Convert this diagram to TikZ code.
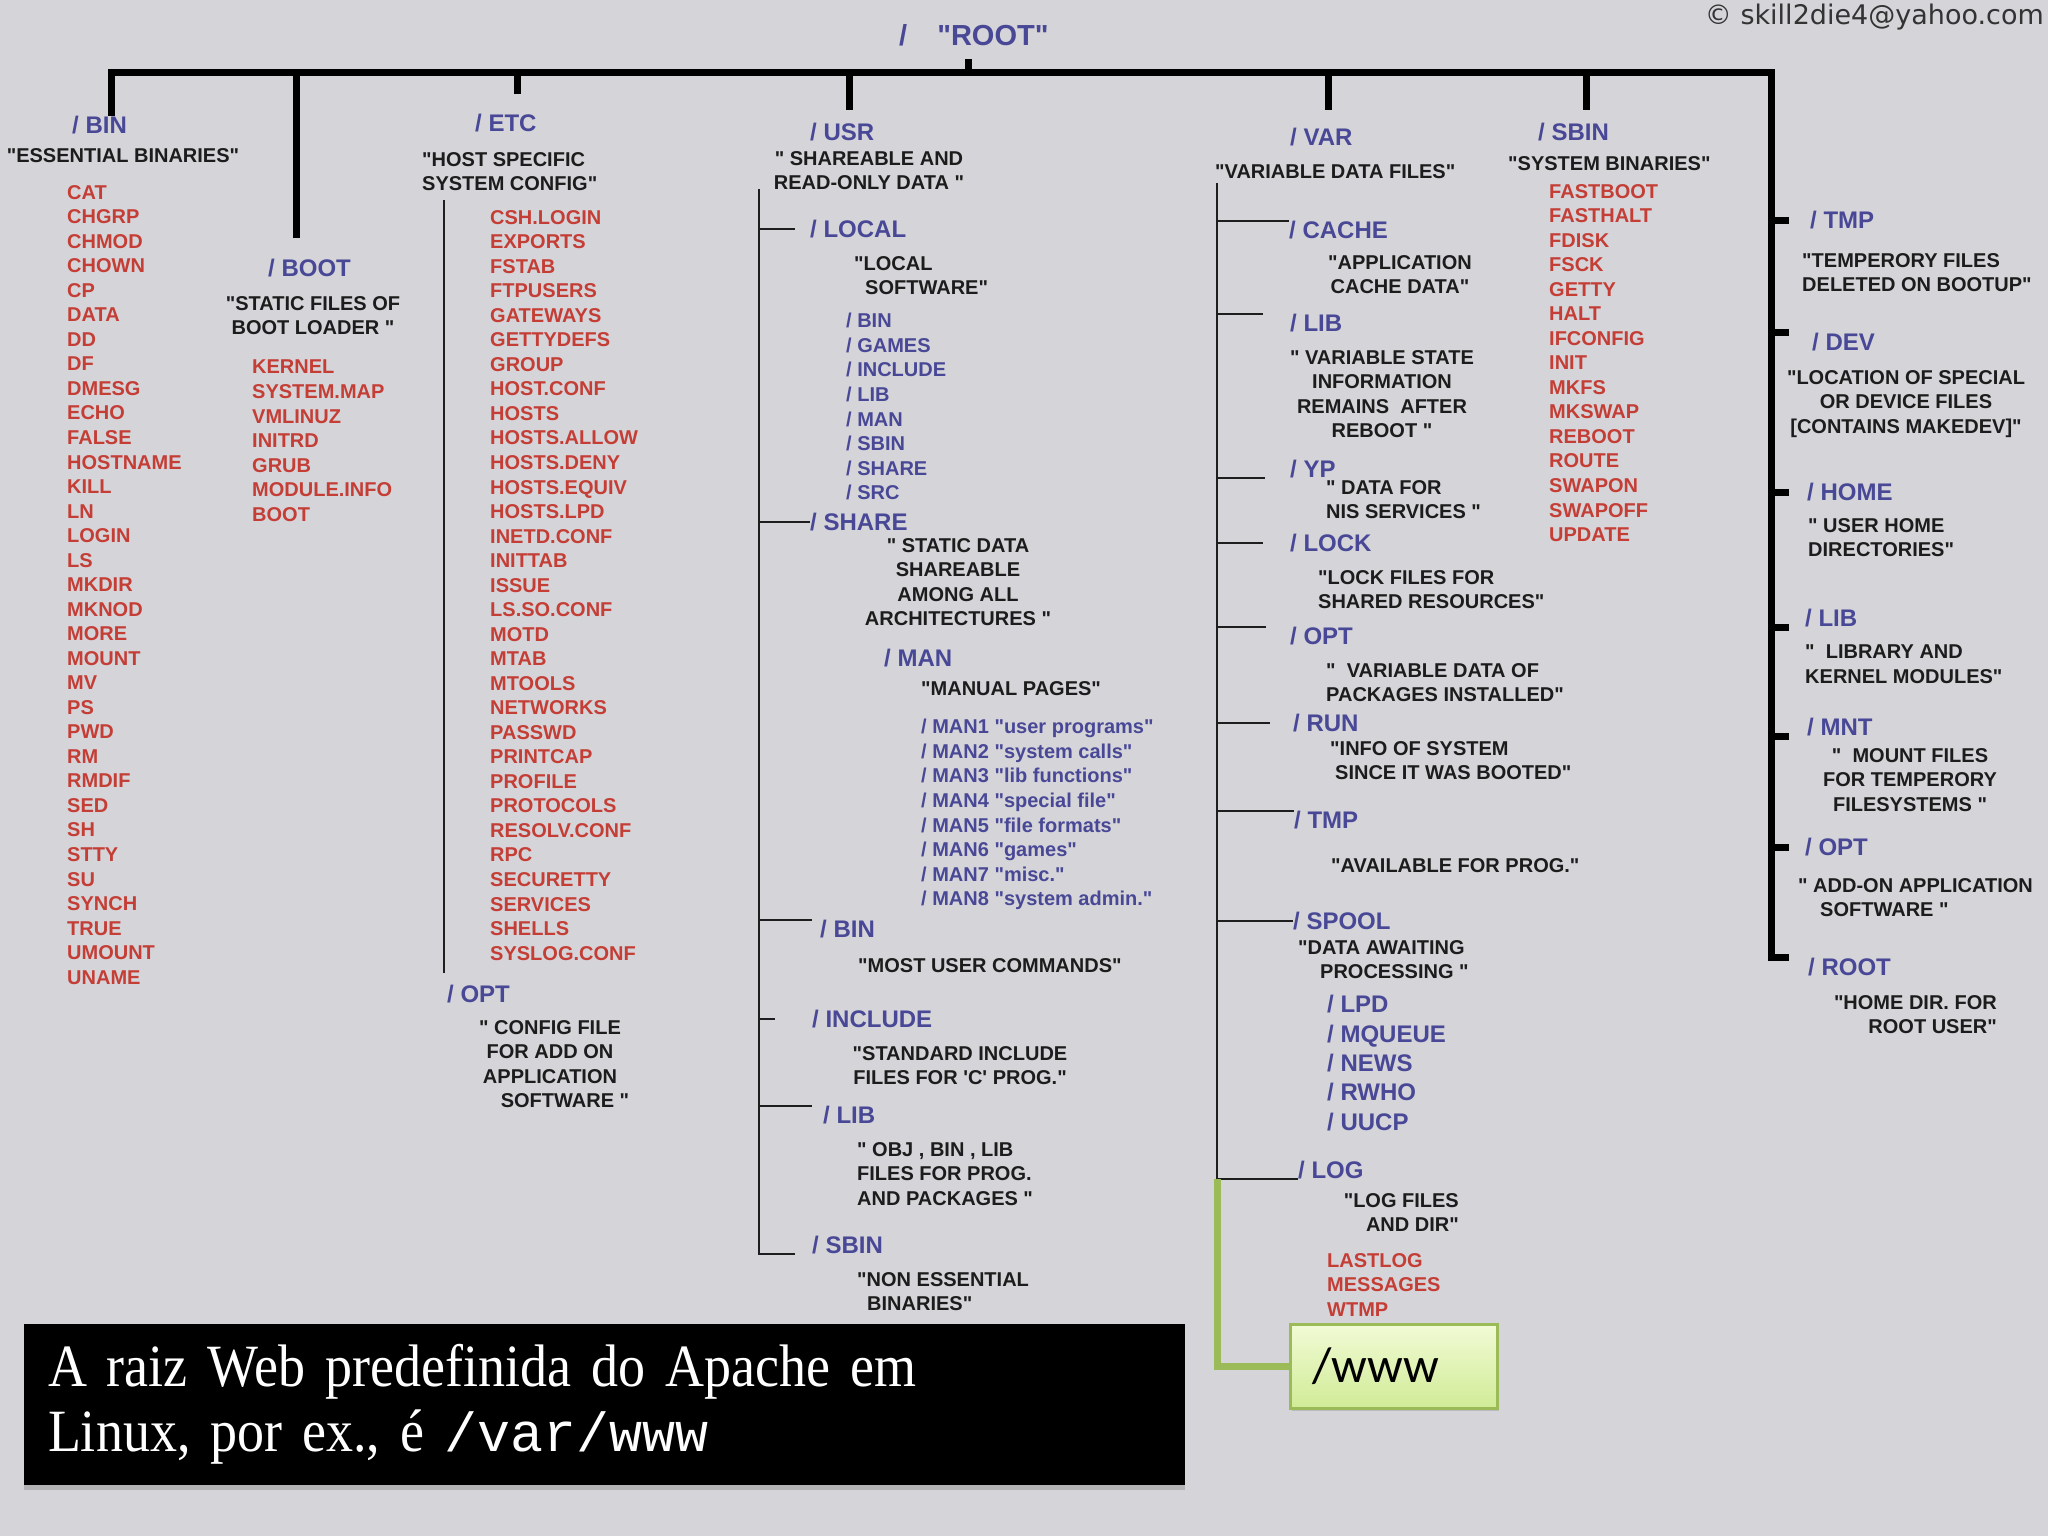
\documentclass[tikz,border=0pt]{standalone}
\usepackage{fontspec}
\usepackage{tikz}
\usetikzlibrary{shadows}
\newfontfamily\dirfont{Liberation Sans}
\newfontfamily\capfont{Liberation Serif}[FakeStretch=0.9]
\newfontfamily\capmono{Liberation Mono}
\newfontfamily\wwwfont{Carlito}
\newfontfamily\copyfont{DejaVu Sans}
\definecolor{bgcol}{RGB}{213,212,217}
\definecolor{dirblue}{RGB}{72,72,150}
\definecolor{filered}{RGB}{196,62,54}
\definecolor{notetxt}{RGB}{28,28,28}
\definecolor{linegray}{RGB}{30,30,30}
\definecolor{wwwgreen}{RGB}{155,187,89}
\definecolor{wwwtop}{RGB}{242,251,214}
\definecolor{wwwbot}{RGB}{208,235,150}

\begin{document}
\begin{tikzpicture}[x=1pt,y=-1pt]
    \tikzstyle{every node}=[inner sep=0pt]
    \tikzstyle{lbl}=[anchor=west,text=dirblue,font=\dirfont\bfseries\fontsize{24}{29.4}\selectfont]
    \tikzstyle{note}=[anchor=north,align=center,text=notetxt,font=\dirfont\bfseries\fontsize{20}{24.5}\selectfont]
    \tikzstyle{noteleft}=[note,anchor=north west,align=left]
    \tikzstyle{noteright}=[note,anchor=north east,align=right]
    \tikzstyle{files}=[anchor=north west,align=left,text=filered,font=\dirfont\bfseries\fontsize{20}{24.53}\selectfont]
    \tikzstyle{subdirs}=[files,text=dirblue,font=\dirfont\bfseries\fontsize{20}{24.6}\selectfont]
    \tikzstyle{bigsubdirs}=[files,text=dirblue,font=\dirfont\bfseries\fontsize{24}{29.4}\selectfont]
    \tikzstyle{trunk}=[line width=7pt,draw=black]
    \tikzstyle{branch}=[line width=2pt,draw=linegray]
    \tikzstyle{wwwline}=[line width=7pt,draw=wwwgreen]
    \tikzstyle{wwwbox}=[draw=wwwgreen,line width=3pt,top color=wwwtop,bottom color=wwwbot,
        minimum width=207pt,minimum height=84pt,text width=163pt,inner xsep=22pt,align=left,
        font=\wwwfont\fontsize{50}{60}\selectfont,drop shadow={shadow xshift=2pt,shadow yshift=-3pt,opacity=0.3}]
    \tikzstyle{capbox}=[fill=black,text=white,minimum width=1161pt,minimum height=161pt,
        text width=1113pt,inner xsep=24pt,align=left,font=\capfont\fontsize{60}{65}\selectfont,
        drop shadow={shadow xshift=0pt,shadow yshift=-5pt,opacity=0.4}]

    \fill[bgcol] (0,0) rectangle (2048,1536);
    \useasboundingbox (0,0) rectangle (2048,1536);

    % title and credit
    \node[anchor=west,text=dirblue,font=\dirfont\bfseries\fontsize{29}{34}\selectfont] (rootttl) at (899,35) {/\hspace{30pt}"ROOT"};
    \node[anchor=east,text=black!80,font=\copyfont\fontsize{27}{32}\selectfont] (credit) at (2044,17) {© skill2die4@yahoo.com};

    % top level directories
    \node[lbl] (binlbl) at (72,125) {/ BIN};
    \node[lbl] (bootlbl) at (268,268) {/ BOOT};
    \node[lbl] (etclbl) at (475,123) {/ ETC};
    \node[lbl] (usrlbl) at (810,132) {/ USR};
    \node[lbl] (varlbl) at (1290,137) {/ VAR};
    \node[lbl] (sbinlbl) at (1538,132) {/ SBIN};

    \node[lbl] (rttmp) at (1810,220) {/ TMP};
    \node[lbl] (rtdev) at (1812,342) {/ DEV};
    \node[lbl] (rthome) at (1807,492) {/ HOME};
    \node[lbl] (rtlib) at (1805,618) {/ LIB};
    \node[lbl] (rtmnt) at (1807,727) {/ MNT};
    \node[lbl] (rtopt) at (1805,847) {/ OPT};
    \node[lbl] (rtroot) at (1808,967) {/ ROOT};

    % the root bar
    \coordinate (barw) at (111,73);
    \coordinate (bare) at (1771,73);
    \coordinate (rootstem) at (968,59);
    \coordinate (bootstem) at (296,238);
    \coordinate (etcstem) at (517,94);
    \coordinate (usrstem) at (849,110);
    \coordinate (varstem) at (1328,110);
    \coordinate (sbinstem) at (1586,110);
    \draw[trunk] (barw |- binlbl.north) -- (barw) -- (bare) -- (bare |- rtroot.north) -- ++(18,0);
    \draw[trunk] (rootstem) -- (rootstem |- barw);
    \draw[trunk] (bootstem) -- (bootstem |- barw);
    \draw[trunk] (etcstem) -- (etcstem |- barw);
    \draw[trunk] (usrstem) -- (usrstem |- barw);
    \draw[trunk] (varstem) -- (varstem |- barw);
    \draw[trunk] (sbinstem) -- (sbinstem |- barw);
    \draw[trunk] (bare |- rttmp.west) -- ++(18,0);
    \draw[trunk] (bare |- rtdev.north) -- ++(18,0);
    \draw[trunk] (bare |- rthome.west) -- ++(18,0);
    \draw[trunk] (bare |- rtlib.south) -- ++(18,0);
    \draw[trunk] (bare |- rtmnt.south) -- ++(18,0);
    \draw[trunk] (bare |- rtopt.west) -- ++(18,0);

    % /bin
    \node[note] (bindesc) at (123,148) {"ESSENTIAL BINARIES"};
    \node[files] (binlist) at (67,185) {CAT\\CHGRP\\CHMOD\\CHOWN\\CP\\DATA\\DD\\DF\\DMESG\\ECHO\\FALSE\\HOSTNAME\\KILL\\LN\\LOGIN\\LS\\MKDIR\\MKNOD\\MORE\\MOUNT\\MV\\PS\\PWD\\RM\\RMDIF\\SED\\SH\\STTY\\SU\\SYNCH\\TRUE\\UMOUNT\\UNAME};

    % /boot
    \node[note] (bootdesc) at (313,296) {"STATIC FILES OF\\BOOT LOADER "};
    \node[files] (bootlist) at (252,360) {KERNEL\\SYSTEM.MAP\\VMLINUZ\\INITRD\\GRUB\\MODULE.INFO\\BOOT};

    % /etc
    \node[noteleft] (etcdesc) at (422,152) {"HOST SPECIFIC\\SYSTEM CONFIG"};
    \node[files] (etclist) at (490,210) {CSH.LOGIN\\EXPORTS\\FSTAB\\FTPUSERS\\GATEWAYS\\GETTYDEFS\\GROUP\\HOST.CONF\\HOSTS\\HOSTS.ALLOW\\HOSTS.DENY\\HOSTS.EQUIV\\HOSTS.LPD\\INETD.CONF\\INITTAB\\ISSUE\\LS.SO.CONF\\MOTD\\MTAB\\MTOOLS\\NETWORKS\\PASSWD\\PRINTCAP\\PROFILE\\PROTOCOLS\\RESOLV.CONF\\RPC\\SECURETTY\\SERVICES\\SHELLS\\SYSLOG.CONF};
    \node[lbl] (etcopt) at (447,994) {/ OPT};
    \node[note] (etcoptdesc) at (550,1020) {" CONFIG FILE\\FOR ADD ON\\APPLICATION\\\hspace*{30pt}SOFTWARE "};
    \coordinate (etctrunk) at (444,200);
    \draw[branch] (etctrunk) -- ([yshift=12pt]etctrunk |- etcopt.north);

    % /usr
    \node[note] (usrdesc) at (869,151) {" SHAREABLE AND\\READ-ONLY DATA "};
    \node[lbl] (local) at (810,229) {/ LOCAL};
    \node[noteleft] (localdesc) at (854,256) {"LOCAL\\\hspace*{11pt}SOFTWARE"};
    \node[subdirs] (locallist) at (846,313) {/ BIN\\/ GAMES\\/ INCLUDE\\/ LIB\\/ MAN\\/ SBIN\\/ SHARE\\/ SRC};
    \node[lbl] (share) at (810,522) {/ SHARE};
    \node[note] (sharedesc) at (958,538) {" STATIC DATA\\SHAREABLE\\AMONG ALL\\ARCHITECTURES "};
    \node[lbl] (usrman) at (884,658) {/ MAN};
    \node[noteleft] (mandesc) at (921,681) {"MANUAL PAGES"};
    \node[subdirs] (manlist) at (921,719) {/ MAN1 "user programs"\\/ MAN2 "system calls"\\/ MAN3 "lib functions"\\/ MAN4 "special file"\\/ MAN5 "file formats"\\/ MAN6 "games"\\/ MAN7 "misc."\\/ MAN8 "system admin."};
    \node[lbl] (usrbin) at (820,929) {/ BIN};
    \node[noteleft] (usrbindesc) at (858,958) {"MOST USER COMMANDS"};
    \node[lbl] (usrinc) at (812,1019) {/ INCLUDE};
    \node[note] (usrincdesc) at (960,1046) {"STANDARD INCLUDE\\FILES FOR \textquotesingle C\textquotesingle{} PROG."};
    \node[lbl] (usrlib) at (823,1115) {/ LIB};
    \node[noteleft] (usrlibdesc) at (857,1142) {" OBJ , BIN , LIB\\FILES FOR PROG.\\AND PACKAGES "};
    \node[lbl] (usrsbin) at (812,1245) {/ SBIN};
    \node[noteleft] (usrsbindesc) at (857,1272) {"NON ESSENTIAL\\\hspace*{10pt}BINARIES"};
    \coordinate (usrtrunk) at (759,189);
    \draw[branch] (usrtrunk) -- (usrtrunk |- usrsbin.south) -- ++(36,0);
    \draw[branch] (usrtrunk |- local.west) -- ++(36,0);
    \draw[branch] (usrtrunk |- share.west) -- (share.west);
    \draw[branch] (usrtrunk |- usrbin.north) -- ++(53,0);
    \draw[branch] (usrtrunk |- usrinc.west) -- ++(16,0);
    \draw[branch] (usrtrunk |- usrlib.north) -- ++(53,0);

    % /var
    \node[noteleft] (vardesc) at (1215,164) {"VARIABLE DATA FILES"};
    \node[lbl] (cache) at (1289,230) {/ CACHE};
    \node[note] (cachedesc) at (1400,255) {"APPLICATION\\CACHE DATA"};
    \node[lbl] (varlib) at (1290,323) {/ LIB};
    \node[note] (varlibdesc) at (1382,350) {" VARIABLE STATE\\INFORMATION\\REMAINS\ \ AFTER\\REBOOT "};
    \node[lbl] (yp) at (1290,469) {/ YP};
    \node[noteleft] (ypdesc) at (1326,480) {" DATA FOR\\NIS SERVICES "};
    \node[lbl] (lock) at (1290,543) {/ LOCK};
    \node[noteleft] (lockdesc) at (1318,570) {"LOCK FILES FOR\\SHARED RESOURCES"};
    \node[lbl] (varopt) at (1290,636) {/ OPT};
    \node[noteleft] (varoptdesc) at (1326,663) {"\ \ VARIABLE DATA OF\\PACKAGES INSTALLED"};
    \node[lbl] (run) at (1293,723) {/ RUN};
    \node[noteleft] (rundesc) at (1330,741) {"INFO OF SYSTEM\\\hspace*{5pt}SINCE IT WAS BOOTED"};
    \node[lbl] (vartmp) at (1294,820) {/ TMP};
    \node[noteleft] (vartmpdesc) at (1331,858) {"AVAILABLE FOR PROG."};
    \node[lbl] (spool) at (1293,921) {/ SPOOL};
    \node[noteleft] (spooldesc) at (1298,940) {"DATA AWAITING\\\hspace*{22pt}PROCESSING "};
    \node[bigsubdirs] (spoollist) at (1327,995) {/ LPD\\/ MQUEUE\\/ NEWS\\/ RWHO\\/ UUCP};
    \node[lbl] (varlog) at (1298,1170) {/ LOG};
    \node[noteright] (logdesc) at (1459,1193) {"LOG FILES\\AND DIR"};
    \node[files] (loglist) at (1327,1253) {LASTLOG\\MESSAGES\\WTMP};
    \coordinate (vartrunk) at (1217,183);
    \draw[branch] (vartrunk) -- (vartrunk |- varlog.south) -- (varlog.south west);
    \draw[branch] (vartrunk |- cache.north) -- (cache.north west);
    \draw[branch] (vartrunk |- varlib.north) -- ++(46,0);
    \draw[branch] (vartrunk |- yp.south) -- ++(48,0);
    \draw[branch] (vartrunk |- lock.west) -- ++(46,0);
    \draw[branch] (vartrunk |- varopt.north) -- ++(49,0);
    \draw[branch] (vartrunk |- run.west) -- ++(53,0);
    \draw[branch] (vartrunk |- vartmp.north) -- (vartmp.north west);
    \draw[branch] (vartrunk |- spool.west) -- (spool.west);

    % /www
    \node[wwwbox] (www) at (1393.5,1366) {/www};
    \draw[wwwline] (vartrunk |- varlog.south) -- (vartrunk |- www.west) -- (www.west);

    % /sbin
    \node[noteleft] (sbindesc) at (1508,156) {"SYSTEM BINARIES"};
    \node[files] (sbinlist) at (1549,184) {FASTBOOT\\FASTHALT\\FDISK\\FSCK\\GETTY\\HALT\\IFCONFIG\\INIT\\MKFS\\MKSWAP\\REBOOT\\ROUTE\\SWAPON\\SWAPOFF\\UPDATE};

    % right column
    \node[noteleft] (tmpdesc) at (1802,253) {"TEMPERORY FILES\\DELETED ON BOOTUP"};
    \node[note] (devdesc) at (1906,370) {"LOCATION OF SPECIAL\\OR DEVICE FILES\\{[}CONTAINS MAKEDEV{]}"};
    \node[noteleft] (homedesc) at (1808,518) {" USER HOME\\DIRECTORIES"};
    \node[noteleft] (libdesc) at (1805,645) {"\ \ LIBRARY AND\\KERNEL MODULES"};
    \node[note] (mntdesc) at (1910,748) {"\ \ MOUNT FILES\\FOR TEMPERORY\\FILESYSTEMS "};
    \node[noteleft] (optdesc) at (1798,878) {" ADD-ON APPLICATION\\\hspace*{22pt}SOFTWARE "};
    \node[noteright] (rootdesc) at (1997,995) {"HOME DIR. FOR\\ROOT USER"};

    % caption
    \node[capbox] (caption) at (604.5,1404.5) {A raiz Web predefinida do Apache em\\Linux, por ex., é {\capmono\fontsize{55}{65}\selectfont /var/www}};
\end{tikzpicture}
\end{document}
